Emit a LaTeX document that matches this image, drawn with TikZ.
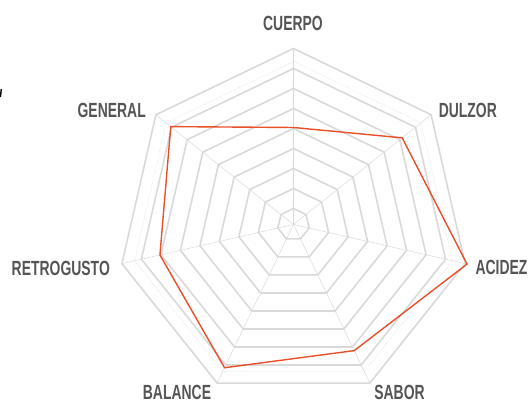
\documentclass[tikz,border=0pt]{standalone}
\usepackage{fontspec}
\newfontfamily\axisfont[FakeStretch=0.68]{Liberation Sans}
\usetikzlibrary{calc}
\definecolor{gridgray}{HTML}{D9D9D9}
\definecolor{labelgray}{HTML}{555555}
\definecolor{scorered}{HTML}{E8502A}

\begin{document}
\begin{tikzpicture}[x=1pt,y=1pt]
\tikzstyle{ring}=[draw=gridgray,line width=1.6pt,line join=miter]
\tikzstyle{dotring}=[draw=gridgray,line width=0.5pt,densely dotted]
\tikzstyle{spoke}=[draw=gridgray,line width=0.5pt]
\tikzstyle{axislabel}=[text=labelgray,font=\axisfont\bfseries\fontsize{20.5}{21}\selectfont,inner sep=0pt]
\tikzstyle{score}=[draw=scorered,line width=1.4pt,line join=miter]
\useasboundingbox (0,0) rectangle (530,403);
\coordinate (c) at (293.5,178.5);
% grid
\begin{scope}[shift={(c)}]
\foreach \r in {16,36,...,176}
  \draw[ring] (90:\r) \foreach \k in {1,...,6}{ -- (90-\k*360/7:\r) } -- cycle;
\draw[dotring] (90:163) \foreach \k in {1,...,6}{ -- (90-\k*360/7:163) } -- cycle;
\foreach \k in {0,...,6}
  \coordinate (ax\k) at (90-\k*360/7:176);
\end{scope}
\foreach \k in {0,...,6}
  \draw[spoke] (c) -- (ax\k);
% scores
\begin{scope}[shift={(c)}]
\foreach \v [count=\k from 0] in {97,139,178,140,159,137,157}
  \coordinate (s\k) at (90-\k*360/7:\v);
\end{scope}
\draw[score] (s0) -- (s1) -- (s2) -- (s3) -- (s4) -- (s5) -- (s6) -- cycle;
% labels
\node[axislabel] (cuerpo) at (293,379.7) {CUERPO};
\node[axislabel] (dulzor) at (467.8,293) {DULZOR};
\node[axislabel] (acidez) at (501.5,135.5) {ACIDEZ};
\node[axislabel] (sabor) at (399.5,10.6) {SABOR};
\node[axislabel] (balance) at (177,10.6) {BALANCE};
\node[axislabel] (retrogusto) at (60.8,135) {RETROGUSTO};
\node[axislabel] (general) at (111.7,293) {GENERAL};
\draw[line width=1.4pt] (1.3,314) -- (0.4,306);
\end{tikzpicture}
\end{document}
